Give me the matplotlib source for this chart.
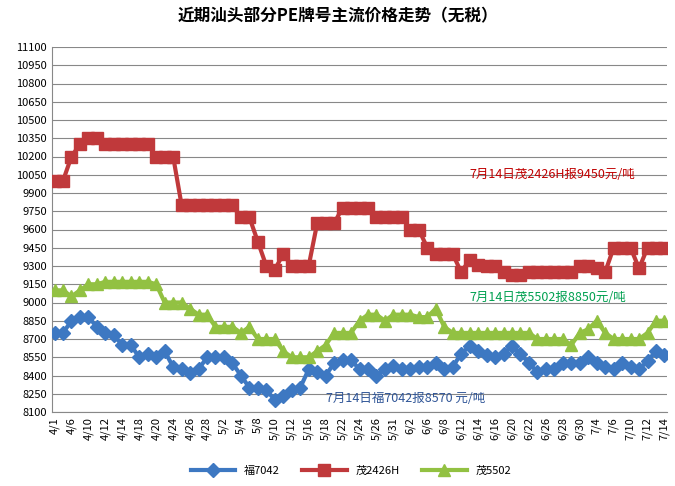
import numpy as np
import matplotlib.pyplot as plt

plt.rcParams["font.family"] = ["Noto Sans CJK JP", "Noto Sans CJK SC", "Noto Sans CJK TC",
                               "Noto Sans CJK KR", "DejaVu Sans"]

# ── Data ───────────────────────────────────────────────────────────────────────
tick_labels = ["4/1", "4/6", "4/10", "4/12", "4/14", "4/18", "4/20", "4/24", "4/26",
               "4/28", "5/2", "5/4", "5/8", "5/10", "5/12", "5/16", "5/18", "5/22",
               "5/24", "5/26", "5/31", "6/2", "6/6", "6/8", "6/12", "6/14", "6/16",
               "6/20", "6/22", "6/26", "6/28", "6/30", "7/4", "7/6", "7/10", "7/12", "7/14"]

fu7042 = [8750, 8750, 8850, 8880, 8880, 8800, 8750, 8730, 8650, 8650,
          8550, 8580, 8550, 8600, 8470, 8450, 8420, 8450, 8550, 8550,
          8550, 8500, 8400, 8300, 8300, 8280, 8200, 8230, 8280, 8300,
          8450, 8430, 8400, 8500, 8530, 8530, 8450, 8450, 8400, 8450,
          8480, 8450, 8450, 8470, 8470, 8500, 8450, 8470, 8580, 8640,
          8600, 8570, 8550, 8580, 8640, 8580, 8500, 8430, 8450, 8450,
          8500, 8500, 8500, 8550, 8500, 8470, 8450, 8500, 8470, 8450,
          8520, 8600, 8570]

mao2426h = [10000, 10000, 10200, 10300, 10350, 10350, 10300, 10300, 10300, 10300,
            10300, 10300, 10200, 10200, 10200, 9800, 9800, 9800, 9800, 9800,
            9800, 9800, 9700, 9700, 9500, 9300, 9270, 9400, 9300, 9300,
            9300, 9650, 9650, 9650, 9780, 9780, 9780, 9780, 9700, 9700,
            9700, 9700, 9600, 9600, 9450, 9400, 9400, 9400, 9250, 9350,
            9310, 9300, 9300, 9250, 9230, 9230, 9250, 9250, 9250, 9250,
            9250, 9250, 9300, 9300, 9280, 9250, 9450, 9450, 9450, 9280,
            9450, 9450, 9450]

mao5502 = [9100, 9100, 9050, 9100, 9150, 9150, 9170, 9170, 9170, 9170,
           9170, 9170, 9150, 9000, 9000, 9000, 8950, 8900, 8900, 8800,
           8800, 8800, 8750, 8800, 8700, 8700, 8700, 8600, 8550, 8550,
           8550, 8600, 8650, 8750, 8750, 8750, 8850, 8900, 8900, 8850,
           8900, 8900, 8900, 8880, 8880, 8950, 8800, 8750, 8750, 8750,
           8750, 8750, 8750, 8750, 8750, 8750, 8750, 8700, 8700, 8700,
           8700, 8650, 8750, 8780, 8850, 8750, 8700, 8700, 8700, 8700,
           8750, 8850, 8850]

# ── Plot ───────────────────────────────────────────────────────────────────────
fig = plt.figure(figsize=(6.75, 4.86), dpi=100)
ax = fig.add_axes([52 / 675, 1 - 412 / 486, 615 / 675, 365 / 486])

x = np.arange(len(fu7042))
ax.plot(x, fu7042, color="#3D78C2", lw=3, marker="D", ms=7, label="福7042", zorder=3)
ax.plot(x, mao2426h, color="#C0393B", lw=3, marker="s", ms=8, label="茂2426H", zorder=3)
ax.plot(x, mao5502, color="#92C142", lw=3, marker="^", ms=8, label="茂5502", zorder=3)

ax.set_ylim(8100, 11100)
ax.set_yticks(np.arange(8100, 11101, 150))
ax.set_xlim(-0.3, len(x) - 0.7)
ax.set_xticks(x[::2])
ax.set_xticklabels(tick_labels, rotation=90, fontsize=8)
ax.tick_params(axis="y", labelsize=8, length=0)
ax.tick_params(axis="x", length=0)
ax.grid(axis="y", color="#888888", lw=0.8)
ax.set_axisbelow(True)
for s in ["top", "right"]:
    ax.spines[s].set_visible(False)
for s in ["left", "bottom"]:
    ax.spines[s].set_color("#888888")

ax.text(49, 10020, "7月14日茂2426H报9450元/吨", color="#C00000", fontsize=9)
ax.text(49, 9015, "7月14日茂5502报8850元/吨", color="#00A050", fontsize=9)
ax.text(32, 8180, "7月14日福7042报8570 元/吨", color="#2F5597", fontsize=9)

fig.suptitle("近期汕头部分PE牌号主流价格走势（无税）", y=0.985, fontsize=12, fontweight="bold")
fig.legend(loc="lower center", ncol=3, frameon=False, fontsize=8,
           bbox_to_anchor=(0.52, 0.0), handlelength=4)

plt.savefig("out.png", dpi=100)
